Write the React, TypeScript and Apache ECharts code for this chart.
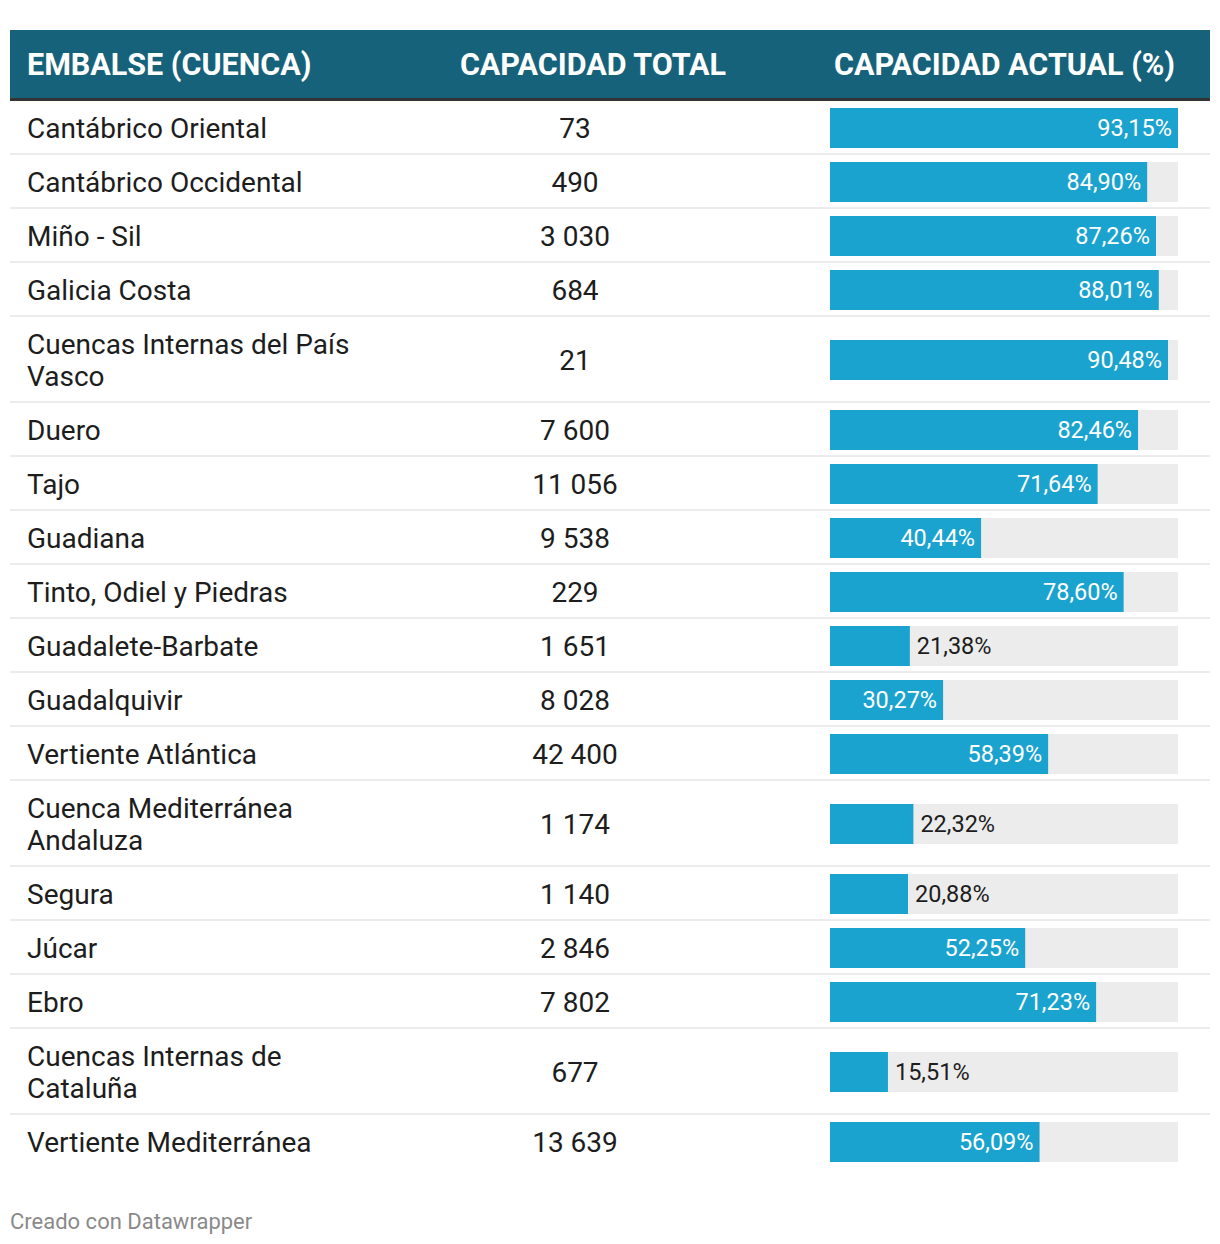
import React, { useEffect, useRef } from "react";
import * as echarts from "echarts";

const headers = ["EMBALSE (CUENCA)", "CAPACIDAD TOTAL", "CAPACIDAD ACTUAL (%)"];

const names = [
  "Cantábrico Oriental",
  "Cantábrico Occidental",
  "Miño - Sil",
  "Galicia Costa",
  "Cuencas Internas del País\nVasco",
  "Duero",
  "Tajo",
  "Guadiana",
  "Tinto, Odiel y Piedras",
  "Guadalete-Barbate",
  "Guadalquivir",
  "Vertiente Atlántica",
  "Cuenca Mediterránea\nAndaluza",
  "Segura",
  "Júcar",
  "Ebro",
  "Cuencas Internas de\nCataluña",
  "Vertiente Mediterránea",
];

const capacities = [73, 490, 3030, 684, 21, 7600, 11056, 9538, 229, 1651, 8028, 42400, 1174, 1140, 2846, 7802, 677, 13639];

const percents = [93.15, 84.9, 87.26, 88.01, 90.48, 82.46, 71.64, 40.44, 78.6, 21.38, 30.27, 58.39, 22.32, 20.88, 52.25, 71.23, 15.51, 56.09];

const footer = "Creado con Datawrapper";

const FONT = "Roboto, 'Noto Sans', sans-serif";

function fmtInt(n: number) {
  return String(n).replace(/\B(?=(\d{3})+(?!\d))/g, " ");
}
function fmtPct(n: number) {
  return n.toFixed(2).replace(".", ",") + "%";
}

export default function App() {
  const ref = useRef<HTMLDivElement>(null);
  useEffect(() => {
    document.body.style.margin = "0";
    const chart = echarts.init(ref.current!, null, { renderer: "svg" });

    const lines = names.map((n) => n.split("\n").length);
    const heights = lines.map((l) => 22 + 32 * l);
    const tops: number[] = [];
    let acc = 0;
    heights.forEach((h) => {
      tops.push(acc);
      acc += h;
    });
    const total = acc;
    const maxPct = Math.max(...percents);
    const data = percents.map((p, i) => [p, tops[i] + heights[i] / 2, i]);

    chart.setOption({
      animation: false,
      grid: { left: 830, width: 348, top: 101, height: total },
      xAxis: { type: "value", min: 0, max: maxPct, show: false },
      yAxis: { type: "value", min: 0, max: total, inverse: true, show: false },
      graphic: [
        { type: "rect", shape: { x: 10, y: 30, width: 1200, height: 68 }, style: { fill: "#17627b" } },
        { type: "rect", shape: { x: 10, y: 98, width: 1200, height: 3 }, style: { fill: "#333333" } },
        {
          type: "text", x: 27, y: 64,
          style: { text: headers[0], fill: "#ffffff", font: `bold 30.5px ${FONT}`, align: "left", verticalAlign: "middle" },
        },
        {
          type: "text", x: 593, y: 64,
          style: { text: headers[1], fill: "#ffffff", font: `bold 30.5px ${FONT}`, align: "center", verticalAlign: "middle" },
        },
        {
          type: "text", x: 1004.5, y: 64,
          style: { text: headers[2], fill: "#ffffff", font: `bold 30.5px ${FONT}`, align: "center", verticalAlign: "middle" },
        },
        {
          type: "text", x: 10, y: 1221,
          style: { text: footer, fill: "#8a8a8a", font: `22px ${FONT}`, align: "left", verticalAlign: "middle" },
        },
      ],
      series: [
        {
          type: "custom",
          clip: false,
          data,
          renderItem: (params: any, api: any) => {
            const pct = api.value(0);
            const cy = api.value(1);
            const idx = api.value(2);
            const [x0, y] = api.coord([0, cy]);
            const [x1] = api.coord([pct, cy]);
            const [xMax] = api.coord([maxPct, cy]);
            const bottom = api.coord([0, tops[idx] + heights[idx]])[1];
            const barW = x1 - x0;
            const children: any[] = [];
            if (idx < names.length - 1) {
              children.push({
                type: "rect",
                shape: { x: 10, y: bottom - 2, width: 1200, height: 2 },
                style: { fill: "#ececec" },
              });
            }
            children.push({
              type: "rect",
              shape: { x: x0, y: y - 20, width: xMax - x0, height: 40 },
              style: { fill: "#ececec" },
            });
            children.push({
              type: "rect",
              shape: { x: x0, y: y - 20, width: barW, height: 40 },
              style: { fill: "#1ba3cf" },
            });
            const inside = barW > 100;
            children.push({
              type: "text",
              x: inside ? x1 - 6 : x1 + 7,
              y: y,
              style: {
                text: fmtPct(pct),
                fill: inside ? "#ffffff" : "#1d1d1d",
                font: `23.5px ${FONT}`,
                align: inside ? "right" : "left",
                verticalAlign: "middle",
              },
            });
            children.push({
              type: "text",
              x: 27,
              y: y,
              style: {
                text: names[idx],
                fill: "#1d1d1d",
                font: `28px ${FONT}`,
                lineHeight: 32,
                align: "left",
                verticalAlign: "middle",
              },
            });
            children.push({
              type: "text",
              x: 575,
              y: y,
              style: {
                text: fmtInt(capacities[idx]),
                fill: "#1d1d1d",
                font: `28px ${FONT}`,
                align: "center",
                verticalAlign: "middle",
              },
            });
            return { type: "group", children };
          },
        },
      ],
    });
    return () => chart.dispose();
  }, []);
  return <div ref={ref} style={{ width: 1220, height: 1244 }} />;
}
